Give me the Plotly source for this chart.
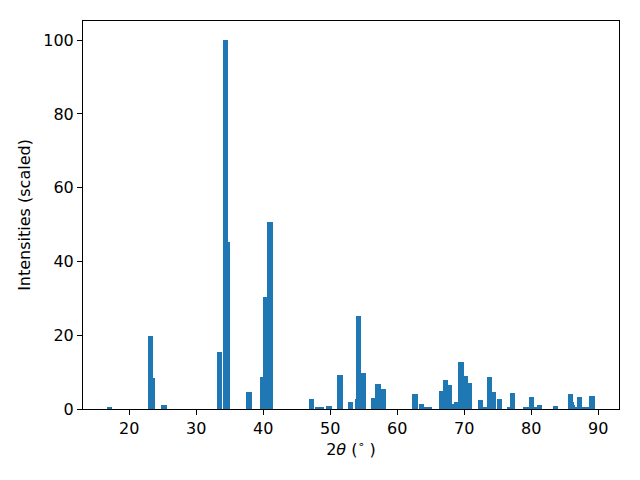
import plotly.graph_objects as go

two_theta = [17.1, 23.15, 23.5, 25.2, 33.5, 34.4, 34.67, 37.85, 39.95, 40.4, 41.0,
             47.25, 48.1, 48.7, 49.8, 51.45, 53.05, 54.1, 54.25, 55.0, 56.5, 57.15, 57.95,
             62.65, 63.65, 64.3, 64.85, 66.65, 67.2, 67.8, 68.55, 68.9, 69.5, 70.1, 70.8,
             72.45, 73.0, 73.8, 74.4, 75.25, 76.85, 77.25, 79.2, 80.05, 80.6, 81.25, 83.65,
             85.9, 86.0, 86.15, 86.45, 87.25, 87.8, 88.2, 89.05]
intensity = [0.3, 19.8, 8.4, 1.1, 15.4, 100.0, 45.3, 4.6, 8.7, 30.3, 50.6,
             2.7, 0.5, 0.3, 0.8, 9.2, 1.9, 2.7, 25.2, 9.8, 3.0, 6.8, 5.4,
             4.1, 1.4, 0.5, 0.3, 4.9, 7.9, 6.5, 1.4, 1.9, 12.7, 8.9, 7.0,
             2.4, 0.5, 8.7, 4.6, 2.7, 0.3, 4.3, 0.3, 3.3, 0.3, 1.1, 0.8,
             4.1, 1.9, 1.1, 0.5, 3.3, 0.3, 0.3, 3.5]
x_ticks = [20, 30, 40, 50, 60, 70, 80, 90]
y_ticks = [0, 20, 40, 60, 80, 100]

fig = go.Figure(go.Bar(x=two_theta, y=intensity, width=0.8,
                       marker=dict(color="#1f77b4", line=dict(width=0))))

font = dict(family="DejaVu Sans", size=16, color="black")
fig.update_layout(
    width=640, height=480,
    margin=dict(l=83, r=21, t=21, b=71),
    plot_bgcolor="white", paper_bgcolor="white",
    font=font, showlegend=False, bargap=0,
)
fig.update_xaxes(range=[13.1, 93.1], tickvals=x_ticks, ticks="outside", ticklen=5,
                 tickwidth=1, tickcolor="black", showline=True, linecolor="black",
                 linewidth=1, mirror=True, showgrid=False, zeroline=False,
                 title=dict(text="2<i>θ</i> (<sup>∘</sup> )", font=font, standoff=6))
fig.update_yaxes(range=[0, 105.2], tickvals=y_ticks, ticks="outside", ticklen=5,
                 tickwidth=1, tickcolor="black", showline=True, linecolor="black",
                 linewidth=1, mirror=True, showgrid=False, zeroline=False,
                 title=dict(text="Intensities (scaled)", font=font, standoff=8))

fig.write_html("out.html", config={"displayModeBar": False},
               post_script="document.body.style.margin='0';")
